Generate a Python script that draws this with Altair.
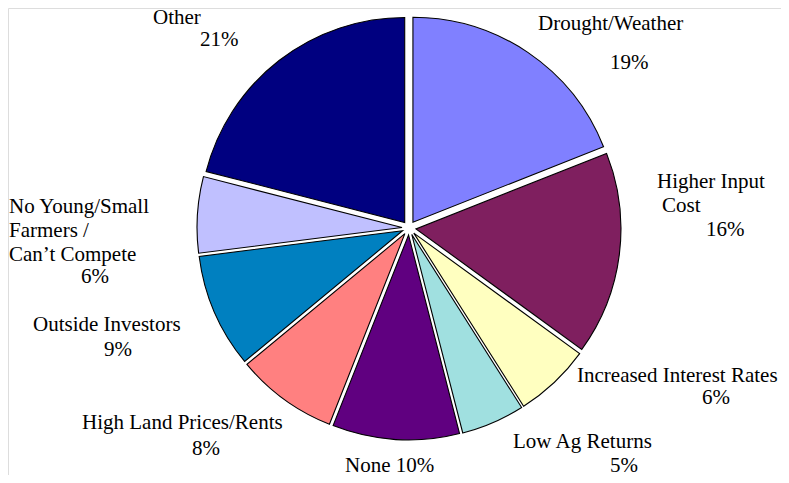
import math
import altair as alt
import pandas as pd

# ---- data ----
categories = [
    "Drought/Weather",
    "Higher Input Cost",
    "Increased Interest Rates",
    "Low Ag Returns",
    "None",
    "High Land Prices/Rents",
    "Outside Investors",
    "No Young/Small Farmers / Can’t Compete",
    "Other",
]
values = [19, 16, 6, 5, 10, 8, 9, 6, 21]

# label text lines per category (the {p} line gets the percentage)
label_lines = [
    ["Drought/Weather", "{p}"],
    ["Higher Input", "Cost", "{p}"],
    ["Increased Interest Rates", "{p}"],
    ["Low Ag Returns", "{p}"],
    ["None {p}"],
    ["High Land Prices/Rents", "{p}"],
    ["Outside Investors", "{p}"],
    ["No Young/Small", "Farmers /", "Can’t Compete", "{p}"],
    ["Other", "{p}"],
]

# ---- styles / layout ----
colors = ["#8080FF", "#7F1F5F", "#FFFFC0", "#A0E0E0", "#600080",
          "#FF8080", "#0080C0", "#C0C0FF", "#000080"]
# label line anchor positions (left x, baseline y) in view pixels
label_pos = [
    [(530, 22), (602, 61)],
    [(649, 180), (654, 204), (698, 228)],
    [(569, 374), (694, 396)],
    [(505, 440), (602, 464)],
    [(337, 464)],
    [(74, 421), (184, 447)],
    [(25, 323), (96, 348)],
    [(1, 205), (1, 229), (1, 253), (73, 275)],
    [(145, 16), (192, 38)],
]
W, H = 773, 467
CX, CY = 401, 220
R = 205
EXPLODE = 7
FONT = "Liberation Serif"
FS = 21

pie_df = pd.DataFrame({"i": list(range(len(categories))),
                       "cat": categories, "value": values})

rows = []
for cat, v, lines, poss in zip(categories, values, label_lines, label_pos):
    for line, (px, py) in zip(lines, poss):
        rows.append({"text": line.format(p=f"{v}%"), "px": px, "py": py})
lab_df = pd.DataFrame(rows)

pie = (
    alt.Chart(pie_df)
    .transform_window(cum="sum(value)", sort=[alt.SortField("i")], frame=[None, 0])
    .transform_calculate(
        start="datum.cum - datum.value",
        mid="(datum.cum - datum.value / 2) / 100 * 2 * PI",
    )
    .transform_calculate(ex="sin(datum.mid)", ey="cos(datum.mid)")
    .mark_arc(radius=R, stroke="black", strokeWidth=1.1)
    .encode(
        theta=alt.Theta("start:Q", scale=alt.Scale(domain=[0, 100], range=[0, 2 * math.pi])),
        theta2="cum:Q",
        x=alt.X("ex:Q", scale=alt.Scale(domain=[-1, 1], range=[CX - EXPLODE, CX + EXPLODE]), axis=None),
        y=alt.Y("ey:Q", scale=alt.Scale(domain=[-1, 1], range=[CY + EXPLODE, CY - EXPLODE]), axis=None),
        color=alt.Color("cat:N", scale=alt.Scale(domain=categories, range=colors), legend=None),
    )
)

labels = (
    alt.Chart(lab_df)
    .mark_text(align="left", baseline="alphabetic", font=FONT, fontSize=FS, color="black")
    .encode(
        x=alt.X("px:Q", scale=None, axis=None),
        y=alt.Y("py:Q", scale=None, axis=None),
        text="text:N",
    )
)

chart = (
    alt.layer(pie, labels)
    .resolve_scale(x="independent", y="independent")
    .properties(width=W, height=H, padding=0, autosize="none")
    .configure_view(stroke=None)
    .configure(background="white")
)

chart.save("out.html", embed_options={"renderer": "svg", "actions": False})
